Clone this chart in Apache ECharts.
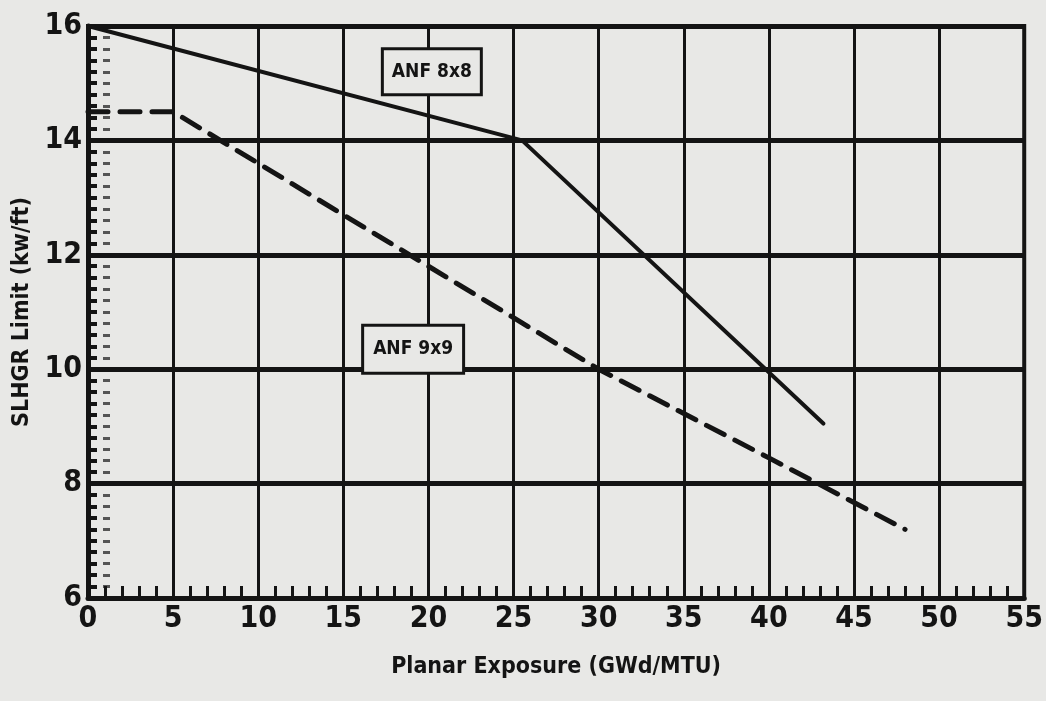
<!DOCTYPE html>
<html><head><meta charset="utf-8">
<script src="https://cdn.jsdelivr.net/npm/echarts@6/dist/echarts.min.js"></script>
<style>html,body{margin:0;padding:0;background:#e8e8e6}#c{width:1046px;height:701px}</style>
</head><body><div id="c"></div>
<script>
// Data
const anf8x8 = [[0, 16.0], [25.5, 14.0], [43.2, 9.05]];
const anf9x9 = [[0, 14.5], [5, 14.5], [20, 11.8], [30, 10.0], [40, 8.45], [48, 7.2]];
const seriesNames = ['ANF 8x8', 'ANF 9x9'];
const xName = 'Planar Exposure (GWd/MTU)';
const yName = 'SLHGR Limit (kw/ft)';
const xMin = 0, xMax = 55, xStep = 5;
const yMin = 6, yMax = 16, yStep = 2;

const FONT = "'Liberation Sans Narrow', 'DejaVu Sans Condensed', 'Liberation Sans', sans-serif";
const INK = '#141414';
const BG = '#e8e8e6';

const boxLabel = {
  show: true, position: 'inside', formatter: '{b}',
  fontFamily: FONT, fontWeight: 'bold', fontSize: 19, color: INK,
  backgroundColor: BG, borderColor: INK, borderWidth: 3,
  padding: [13, 8, 11, 8]
};

const chart = echarts.init(document.getElementById('c'), null, {renderer: 'canvas'});
chart.setOption({
  backgroundColor: BG,
  animation: false,
  grid: {left: 88, right: 18, top: 26, bottom: 103, show: true, borderColor: INK, borderWidth: 4},
  xAxis: {
    type: 'value', min: xMin, max: xMax, interval: xStep,
    name: xName, nameLocation: 'middle', nameGap: 58,
    nameTextStyle: {fontFamily: FONT, fontWeight: 'bold', fontSize: 23, color: INK},
    axisLine: {show: true, lineStyle: {color: INK, width: 5}},
    axisTick: {show: true, inside: true, length: 10, lineStyle: {color: INK, width: 3}},
    minorTick: {show: true, splitNumber: 5, length: 12, lineStyle: {color: INK, width: 3}},
    axisLabel: {fontFamily: FONT, fontWeight: 'bold', fontSize: 30, color: INK, margin: 6},
    splitLine: {show: true, lineStyle: {color: INK, width: 3}}
  },
  yAxis: [{
    type: 'value', min: yMin, max: yMax, interval: yStep,
    name: yName, nameLocation: 'middle', nameGap: 44, nameRotate: 90,
    nameTextStyle: {fontFamily: FONT, fontWeight: 'bold', fontSize: 23, color: INK},
    axisLine: {show: true, lineStyle: {color: INK, width: 5}},
    axisTick: {show: true, inside: true, length: 10, lineStyle: {color: INK, width: 4}},
    minorTick: {show: true, splitNumber: 10, length: 9, lineStyle: {color: INK, width: 4}},
    axisLabel: {fontFamily: FONT, fontWeight: 'bold', fontSize: 30, color: INK, margin: 6},
    splitLine: {show: true, lineStyle: {color: INK, width: 5}}
  }, {
    type: 'value', min: yMin, max: yMax, interval: yStep, position: 'left', offset: -22,
    axisLine: {show: false},
    axisTick: {show: false},
    minorTick: {show: true, splitNumber: 10, length: 7, lineStyle: {color: '#555', width: 3}},
    axisLabel: {show: false},
    splitLine: {show: false}
  }],
  series: [
    {
      name: seriesNames[0], type: 'line', data: anf8x8, symbol: 'none',
      lineStyle: {color: INK, width: 4, cap: 'round'},
      markPoint: {
        symbol: 'rect', symbolSize: 1, itemStyle: {color: 'rgba(0,0,0,0)'},
        label: boxLabel,
        data: [{name: seriesNames[0], coord: [20.2, 15.2]}]
      }
    },
    {
      name: seriesNames[1], type: 'line', data: anf9x9, symbol: 'none',
      lineStyle: {color: INK, width: 5, type: [20, 12], cap: 'round'},
      markPoint: {
        symbol: 'rect', symbolSize: 1, itemStyle: {color: 'rgba(0,0,0,0)'},
        label: Object.assign({}, boxLabel, {padding: [14, 9, 12, 9]}),
        data: [{name: seriesNames[1], coord: [19.1, 10.35]}]
      }
    }
  ]
});
</script>
</body></html>
